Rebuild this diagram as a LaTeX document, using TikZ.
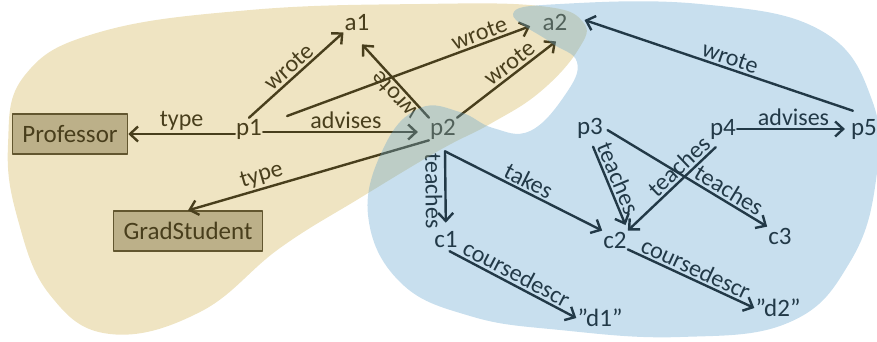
\documentclass[tikz,border=0pt]{standalone}
\usepackage{fontspec}
\setmainfont{Carlito}
\usepackage{tikz}
\usetikzlibrary{arrows.meta}
\usetikzlibrary{positioning}
\definecolor{boxfill}{RGB}{178,176,168}
\definecolor{boxline}{RGB}{40,38,30}
\definecolor{inkc}{RGB}{0,0,0}
\definecolor{sandblob}{RGB}{209,178,81}
\definecolor{skyblob}{RGB}{98,164,206}
\tikzset{
  res/.style={inner sep=1pt,font=\fontsize{25}{28}\selectfont,text=inkc},
  cls/.style={draw=boxline,line width=1.2pt,fill=boxfill,minimum height=40pt,inner xsep=10pt,font=\fontsize{25}{28}\selectfont,text=inkc},
  edge/.style={->,line width=2.4pt,draw=inkc},
  lbl/.style={font=\fontsize{24}{26}\selectfont,sloped,above,inner sep=2pt,text=inkc}
}

\begin{document}
\begin{tikzpicture}[line cap=round,line join=round,>={Straight Barb[length=8pt,width=15pt]},x=1pt,y=-1pt]
\useasboundingbox (0,0) rectangle (877,341);
% classes
\node[cls] (prof) at (70,134) {Professor};
\node[cls] (grad) at (188,231) {GradStudent};
% resources
\node[res] (p1) at (249,129) {p1};
\node[res] (p2) at (443,129) {p2};
\node[res] (p3) at (590,128) {p3};
\node[res] (p4) at (723,129) {p4};
\node[res] (p5) at (864,129) {p5};
\node[res] (a1) at (357,23) {a1};
\node[res] (a2) at (555,22) {a2};
\node[res] (c1) at (446,240) {c1};
\node[res] (c2) at (615,240) {c2};
\node[res] (c3) at (780,236) {c3};
\node[res] (d1) at (600,318) {"d1"};
\node[res] (d2) at (778,308) {"d2"};
\coordinate (p2out) at ([shift={(2,11)}]p2.south);
% triples
\draw[edge] (prof.east -| p1.west) -- (prof.east) node[lbl,midway] {type};
\draw[edge] (p1.north) -- (a1.south west) node[lbl,midway] {wrote};
\draw[edge,shorten >=12pt] ([shift={(24,-13)}]p1.east) -- (a2.west) node[lbl,pos=0.77] {wrote};
\draw[edge,shorten >=11pt] ([shift={(0,3)}]p1.east) -- ([shift={(0,3)}]p2.west) node[lbl,midway] {advises};
\draw[edge] (p2.north west) -- ([shift={(5,12)}]a1.south) node[lbl,allow upside down,pos=0.4] {wrote};
\draw[edge] (p2.north east) -- ([shift={(1,10)}]a2.south) node[lbl,pos=0.6] {wrote};
\draw[edge] (p2.south west) -- (grad.north) node[lbl,pos=0.68] {type};
\draw[edge,shorten >=8pt] (p2out) -- (c1) node[lbl,allow upside down,below,midway] {teaches};
\draw[edge] (p2out) -- (c2.north west) node[lbl,midway] {takes};
\draw[edge,shorten <=8pt,shorten >=6pt] (p3.south) -- (c2.north east) node[lbl,pos=0.47] {teaches};
\draw[edge,shorten <=4pt] (p3.east) -- (c3.north west) node[lbl,pos=0.73] {teaches};
\draw[edge,shorten <=10pt] (p4.south) -- (c2.north east) node[lbl,pos=0.38] {teaches};
\draw[edge,shorten >=5pt] (p4.east) -- (p5.west) node[lbl,midway] {advises};
\draw[edge] ([shift={(3,-7)}]p5.north west) -- ([shift={(16,-2)}]a2.east) node[lbl,pos=0.47] {wrote};
\draw[edge,shorten <=4pt] (c1.south) -- (d1.west) node[lbl,midway] {coursedescr};
\draw[edge] (c2.south east) -- (d2.west) node[lbl,midway] {coursedescr};
% regions
\fill[sandblob,fill opacity=0.35] plot[smooth cycle,tension=0.7] coordinates {(8,145) (25,75) (100,32) (250,10) (420,4) (540,6) (583,22) (578,50) (540,92) (490,124) (440,150) (360,198) (280,248) (200,312) (110,334) (50,295) (18,220)};
\fill[skyblob,fill opacity=0.35] plot[smooth cycle,tension=0.7] coordinates {(513,14) (560,4) (700,4) (820,30) (872,100) (876,180) (850,262) (790,322) (680,337) (560,330) (470,316) (400,282) (368,215) (385,145) (420,108) (460,112) (493,128) (530,131) (565,95) (577,62) (550,42)};
\end{tikzpicture}
\end{document}
